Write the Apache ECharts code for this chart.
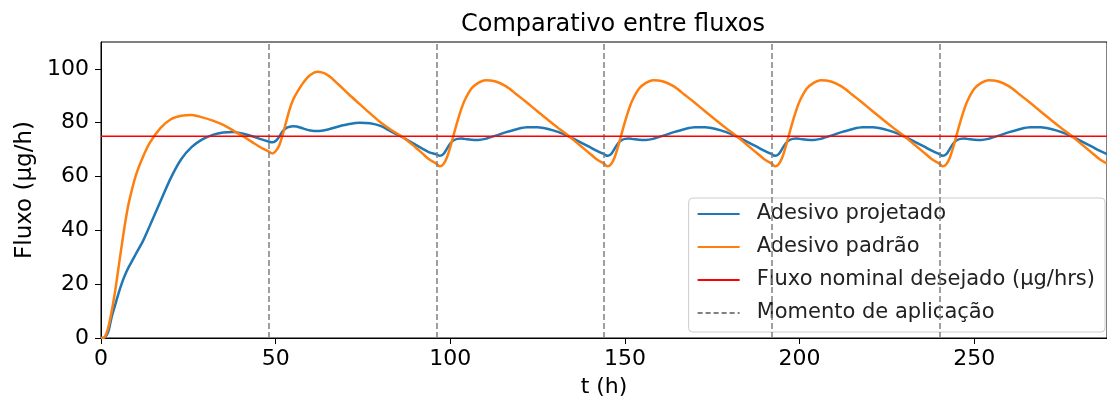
<!DOCTYPE html>
<html>
<head>
<meta charset="utf-8">
<script src="https://cdn.jsdelivr.net/npm/echarts@6/dist/echarts.min.js"></script>
<style>
  html, body { margin: 0; padding: 0; background: #fff; }
  #chart { width: 1107px; height: 403px; }
</style>
</head>
<body>
<div id="chart"></div>
<script>
// tempo (h)
const horas = [
  0, 1, 2, 3, 4, 5, 6, 7, 8, 10, 12, 14, 17, 20, 23, 26, 29, 32, 35, 38, 41, 44, 46,
  48, 49, 50, 51, 52, 53, 54, 55, 56, 58, 60, 62, 65, 68, 71, 74, 77, 80, 83, 86, 89, 92, 94,
  96, 97, 98, 99, 100, 101, 102, 103, 104, 106, 108, 110, 113, 116, 119, 122, 125, 128, 131, 134, 137, 140, 142,
  144, 145, 146, 147, 148, 149, 150, 151, 152, 154, 156, 158, 161, 164, 167, 170, 173, 176, 179, 182, 185, 188, 190,
  192, 193, 194, 195, 196, 197, 198, 199, 200, 202, 204, 206, 209, 212, 215, 218, 221, 224, 227, 230, 233, 236, 238,
  240, 241, 242, 243, 244, 245, 246, 247, 248, 250, 252, 254, 257, 260, 263, 266, 269, 272, 275, 278, 281, 284, 286,
  288
]
const adesivoProjetado = [
  0, 0.2, 2, 7.5, 12, 16.5, 20.5, 23.8, 26.5, 31.3, 36, 41.8, 50.7, 59.5, 66.5, 71, 73.8, 75.5, 76.4, 76.6, 75.8, 74.7, 73.8,
  73, 72.7, 73.2, 74.8, 76.8, 78, 78.5, 78.7, 78.6, 77.8, 77.1, 76.9, 77.5, 78.6, 79.5, 80, 79.8, 78.8, 76.8, 74.8, 72.6, 70.4, 69,
  68.3, 67.7, 68.3, 70.3, 72.3, 73.5, 74, 74.1, 74, 73.7, 73.6, 74, 75.2, 76.5, 77.6, 78.3, 78.3, 77.7, 76.5, 74.8, 72.9, 70.9, 69.5,
  68.3, 67.7, 68.3, 70.3, 72.3, 73.5, 74, 74.1, 74, 73.7, 73.6, 74, 75.2, 76.5, 77.6, 78.3, 78.3, 77.7, 76.5, 74.8, 72.9, 70.9, 69.5,
  68.3, 67.7, 68.3, 70.3, 72.3, 73.5, 74, 74.1, 74, 73.7, 73.6, 74, 75.2, 76.5, 77.6, 78.3, 78.3, 77.7, 76.5, 74.8, 72.9, 70.9, 69.5,
  68.3, 67.7, 68.3, 70.3, 72.3, 73.5, 74, 74.1, 74, 73.7, 73.6, 74, 75.2, 76.5, 77.6, 78.3, 78.3, 77.7, 76.5, 74.8, 72.9, 70.9, 69.5,
  68.3
]
const adesivoPadrao = [
  0, 0.3, 3.5, 9.5, 17, 26, 35, 43.5, 50.5, 60.5, 67.3, 72.6, 78, 81.3, 82.6, 82.9, 82, 80.8, 79.2, 77, 74.7, 72.2, 70.6,
  69.3, 68.6, 69.4, 71.5, 75.5, 80.3, 85, 88.5, 91, 95, 97.8, 98.9, 97.6, 94.2, 90.5, 87, 83.5, 80.2, 77.4, 75, 72, 68.6, 66.3,
  64.8, 63.8, 64.6, 67, 71, 75.7, 80.3, 84.5, 88, 92.6, 94.8, 95.8, 95.3, 93.5, 90.5, 87.4, 84.2, 81, 77.9, 75, 71.7, 68.5, 66.3,
  64.8, 63.8, 64.6, 67, 71, 75.7, 80.3, 84.5, 88, 92.6, 94.8, 95.8, 95.3, 93.5, 90.5, 87.4, 84.2, 81, 77.9, 75, 71.7, 68.5, 66.3,
  64.8, 63.8, 64.6, 67, 71, 75.7, 80.3, 84.5, 88, 92.6, 94.8, 95.8, 95.3, 93.5, 90.5, 87.4, 84.2, 81, 77.9, 75, 71.7, 68.5, 66.3,
  64.8, 63.8, 64.6, 67, 71, 75.7, 80.3, 84.5, 88, 92.6, 94.8, 95.8, 95.3, 93.5, 90.5, 87.4, 84.2, 81, 77.9, 75, 71.7, 68.5, 66.3,
  64.8
]
const fluxoNominal = 75
const aplicacoes = [48, 96, 144, 192, 240]
const xTicks = [0, 50, 100, 150, 200, 250]
const yTicks = [0, 20, 40, 60, 80, 100]

const font = 'DejaVu Sans'
const chart = echarts.init(document.getElementById('chart'))

const pares = (vals) => horas.map((t, i) => [t, vals[i]])

chart.setOption({
  animation: false,
  textStyle: { fontFamily: font },
  title: {
    text: 'Comparativo entre fluxos',
    left: 608,
    top: 8,
    textAlign: 'center',
    textStyle: { fontFamily: font, fontSize: 24, fontWeight: 'normal', color: '#000' }
  },
  grid: {
    left: 101, top: 42, right: -8, bottom: 63,
    show: true, borderColor: '#000', borderWidth: 1,
    containLabel: false
  },
  legend: {
    orient: 'vertical',
    right: 2,
    top: 198,
    itemWidth: 42,
    itemHeight: 14,
    itemGap: 11,
    padding: [5, 10, 8, 8],
    backgroundColor: 'rgba(255,255,255,0.8)',
    borderColor: '#cccccc',
    borderWidth: 1,
    borderRadius: 4,
    itemStyle: { opacity: 0 },
    textStyle: { fontFamily: font, fontSize: 21, color: '#222', lineHeight: 22, padding: [0, 0, 0, 12] },
    data: ['Adesivo projetado', 'Adesivo padrão', 'Fluxo nominal desejado (µg/hrs)', 'Momento de aplicação']
  },
  xAxis: {
    type: 'value',
    min: 0,
    max: 288,
    name: 't (h)',
    nameLocation: 'middle',
    nameGap: 38,
    nameTextStyle: { fontFamily: font, fontSize: 22, color: '#000' },
    splitLine: { show: false },
    axisLine: { onZero: false, lineStyle: { color: '#000', width: 1 } },
    axisTick: { show: true, length: 6, lineStyle: { color: '#000' }, customValues: xTicks },
    axisLabel: { fontFamily: font, fontSize: 22, color: '#000', margin: 10, customValues: xTicks }
  },
  yAxis: {
    type: 'value',
    min: 0,
    max: 110,
    name: 'Fluxo (µg/h)',
    nameLocation: 'middle',
    nameGap: 64,
    nameTextStyle: { fontFamily: font, fontSize: 23, color: '#000' },
    splitLine: { show: false },
    axisLine: { show: true, lineStyle: { color: '#000', width: 1 } },
    axisTick: { show: true, length: 6, lineStyle: { color: '#000' }, customValues: yTicks },
    axisLabel: { fontFamily: font, fontSize: 22, color: '#000', margin: 12, customValues: yTicks }
  },
  series: [
    {
      name: 'Adesivo projetado',
      type: 'line',
      data: pares(adesivoProjetado),
      symbol: 'none',
      smooth: 0.3,
      z: 3,
      lineStyle: { color: '#1f77b4', width: 2.5 },
      itemStyle: { color: '#1f77b4' }
    },
    {
      name: 'Adesivo padrão',
      type: 'line',
      data: pares(adesivoPadrao),
      symbol: 'none',
      smooth: 0.3,
      z: 4,
      lineStyle: { color: '#ff7f0e', width: 2.5 },
      itemStyle: { color: '#ff7f0e' }
    },
    {
      name: 'Fluxo nominal desejado (µg/hrs)',
      type: 'line',
      data: [[0, fluxoNominal], [288, fluxoNominal]],
      symbol: 'none',
      z: 5,
      lineStyle: { color: '#ff0000', width: 1.5 },
      itemStyle: { color: '#ff0000' }
    },
    {
      name: 'Momento de aplicação',
      type: 'line',
      data: [],
      symbol: 'none',
      z: 2,
      lineStyle: { color: '#808080', width: 1.5, type: [5, 3] },
      itemStyle: { color: '#808080' },
      markLine: {
        silent: true,
        symbol: 'none',
        label: { show: false },
        lineStyle: { color: '#808080', width: 1.5, type: [6, 3] },
        data: aplicacoes.map(t => ({ xAxis: t }))
      }
    }
  ]
})
</script>
</body>
</html>
